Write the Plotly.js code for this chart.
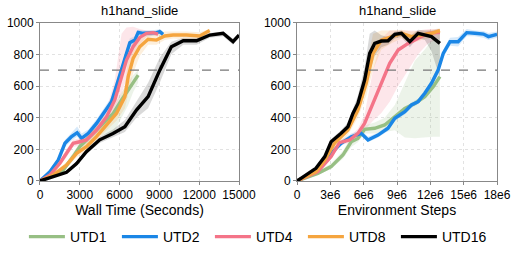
<!DOCTYPE html>
<html><head><meta charset="utf-8">
<script src="https://cdn.plot.ly/plotly-3.0.1.min.js"></script>
<style>html,body{margin:0;padding:0;background:#fff}#chart{width:518px;height:259px}</style>
</head><body><div id="chart"></div>
<script>
// ---------- Left panel: Wall Time (seconds) ----------
const wall_utd1_x = [0,1000,1750,2500,3000,3500,4500,5520,6150,6650,7020,7400];
const wall_utd1_y = [0,38,69,154,217,259,343,427,512,575,627,669];
const wall_utd1_hi = [0,50,85,180,240,290,380,470,560,620,670,700];
const wall_utd1_lo = [0,28,55,130,190,230,290,300,400,480,560,620];

const wall_utd2_x = [0,750,1380,1880,2380,2800,3135,3640,4260,4765,5390,5900,6400,6770,7150,7400,7780,8280,8780,9030,9280];
const wall_utd2_y = [0,59,133,238,280,305,270,301,364,427,501,638,775,874,890,939,933,933,937,943,926];
const wall_utd2_hi = [0,75,150,260,305,345,300,325,390,455,530,670,800,900,915,955,950,950,955,958,945];
const wall_utd2_lo = [0,45,115,215,255,280,250,280,340,400,470,600,740,845,865,920,915,915,920,925,905];

const wall_utd4_x = [0,750,1500,2000,2500,3000,3500,4260,5020,5640,6150,6520,7020,7520,8030,8530,8900];
const wall_utd4_y = [0,38,112,175,238,248,259,322,406,512,659,764,848,907,933,937,928];
const wall_utd4_hi = [0,50,130,200,260,270,285,350,450,640,930,970,975,960,950,950,940];
const wall_utd4_lo = [0,28,95,150,215,225,235,295,370,440,560,640,760,860,910,920,915];

const wall_utd8_x = [0,1000,2000,2760,3500,4260,5020,5770,6400,6650,7020,7520,8150,8780,9400,10030,11040,12040,12790];
const wall_utd8_y = [0,38,101,175,217,280,354,427,533,659,775,848,895,890,916,922,922,916,950];
const wall_utd8_hi = [0,50,120,200,245,310,385,470,600,780,870,900,930,930,945,945,945,940,960];
const wall_utd8_lo = [0,25,85,150,190,250,320,380,460,560,680,790,860,860,890,900,895,885,935];

const wall_utd16_x = [0,1000,2000,2760,3500,4500,5500,6400,7270,8150,9030,9900,10800,11800,12800,13800,14550,15000];
const wall_utd16_y = [0,27,55,110,185,260,300,343,448,533,700,848,886,886,922,933,880,922];
const wall_utd16_hi = [0,35,65,125,200,280,325,385,500,620,780,880,905,905,935,945,900,935];
const wall_utd16_lo = [0,20,45,95,170,240,275,310,400,460,620,800,860,860,905,915,860,905];

// ---------- Right panel: Environment Steps ----------
const env_utd1_x = [0,1.87e6,3.07e6,4.13e6,4.88e6,5.48e6,6.08e6,6.99e6,7.89e6,8.8e6,9.7e6,10.6e6,11.5e6,12.26e6,12.86e6];
const env_utd1_y = [0,48,91,164,248,269,326,333,354,406,459,490,533,596,659];
const env_utd1_hi = [0,60,110,190,280,300,350,370,400,480,620,760,830,900,930];
const env_utd1_lo = [0,38,75,140,215,245,300,300,310,320,275,270,275,280,280];

const env_utd2_x = [0,1.87e6,3.07e6,3.97e6,4.88e6,5.78e6,6.39e6,7.29e6,8.19e6,8.8e6,9.7e6,10.3e6,10.9e6,11.5e6,12.1e6,12.7e6,13.16e6,13.77e6,14.5e6,15.27e6,16e6,16.78e6,17.23e6,18e6];
const env_utd2_y = [0,69,175,238,280,301,259,290,333,396,438,480,501,554,617,701,806,880,880,937,933,928,912,926];
const env_utd2_hi = [0,82,190,255,300,320,280,305,350,412,455,497,520,575,640,725,830,905,910,960,950,948,935,945];
const env_utd2_lo = [0,56,160,222,262,285,245,275,316,380,420,462,485,535,595,680,780,855,850,915,915,905,890,905];

const env_utd4_x = [0,1.87e6,3.07e6,3.82e6,4.73e6,5.48e6,6.08e6,6.84e6,7.59e6,8.34e6,9.1e6,10e6,10.9e6,11.8e6,12.86e6];
const env_utd4_y = [0,59,154,242,259,301,364,490,617,743,827,869,901,933,939];
const env_utd4_hi = [0,70,170,260,280,330,420,700,900,950,950,950,950,960,960];
const env_utd4_lo = [0,48,140,225,240,275,320,380,430,500,600,700,800,870,900];

const env_utd8_x = [0,1.7e6,2.5e6,3.37e6,4.58e6,5.48e6,6.23e6,6.84e6,7.59e6,8.5e6,9.4e6,10.3e6,11.2e6,12.1e6,12.86e6];
const env_utd8_y = [0,59,133,238,322,448,617,806,890,912,933,912,922,933,950];
const env_utd8_hi = [0,72,150,258,350,500,720,930,950,950,955,945,950,955,965];
const env_utd8_lo = [0,45,115,215,290,400,540,700,830,870,900,870,890,905,925];

const env_utd16_x = [0,0.96e6,1.7e6,2.5e6,3.07e6,3.97e6,4.58e6,5.03e6,5.48e6,6.08e6,6.54e6,6.99e6,7.59e6,8.19e6,8.8e6,9.4e6,10.15e6,10.9e6,11.5e6,12.1e6,12.86e6];
const env_utd16_y = [0,48,80,154,248,301,343,427,490,638,806,869,884,886,926,933,880,933,922,912,869];
const env_utd16_hi = [0,58,92,170,265,320,370,460,540,720,930,950,920,910,945,950,915,955,950,950,960];
const env_utd16_lo = [0,38,68,138,230,282,318,395,440,560,690,790,845,860,900,910,845,905,890,820,650];

const seriesNames = ['UTD1','UTD2','UTD4','UTD8','UTD16'];
const lineColors = ['#97bf84','#1a86e6','#f47488','#f5a53f','#000000'];
const bandColors = ['rgba(151,191,132,0.18)','rgba(26,134,230,0.18)','rgba(244,116,136,0.18)','rgba(245,165,63,0.18)','rgba(0,0,0,0.15)'];

const leftSeries = [
  [wall_utd1_x, wall_utd1_y, wall_utd1_lo, wall_utd1_hi],
  [wall_utd2_x, wall_utd2_y, wall_utd2_lo, wall_utd2_hi],
  [wall_utd4_x, wall_utd4_y, wall_utd4_lo, wall_utd4_hi],
  [wall_utd8_x, wall_utd8_y, wall_utd8_lo, wall_utd8_hi],
  [wall_utd16_x, wall_utd16_y, wall_utd16_lo, wall_utd16_hi]
];
const rightSeries = [
  [env_utd1_x, env_utd1_y, env_utd1_lo, env_utd1_hi],
  [env_utd2_x, env_utd2_y, env_utd2_lo, env_utd2_hi],
  [env_utd4_x, env_utd4_y, env_utd4_lo, env_utd4_hi],
  [env_utd8_x, env_utd8_y, env_utd8_lo, env_utd8_hi],
  [env_utd16_x, env_utd16_y, env_utd16_lo, env_utd16_hi]
];

const traces = [];
function addBands(series, xa, ya) {
  series.forEach((s, i) => {
    const [x, , lo, hi] = s;
    traces.push({
      type: 'scatter', mode: 'lines', xaxis: xa, yaxis: ya,
      x: x.concat(x.slice().reverse()),
      y: hi.concat(lo.slice().reverse()),
      fill: 'toself', fillcolor: bandColors[i], line: {width: 0},
      showlegend: false, hoverinfo: 'skip'
    });
  });
}
function addLines(series, xa, ya, legend) {
  series.forEach((s, i) => {
    traces.push({
      type: 'scatter', mode: 'lines', xaxis: xa, yaxis: ya,
      x: s[0], y: s[1], name: seriesNames[i],
      line: {color: lineColors[i], width: 3.4},
      showlegend: legend
    });
  });
}
addBands(leftSeries, 'x', 'y');
addBands(rightSeries, 'x2', 'y2');
addLines(leftSeries, 'x', 'y', true);
addLines(rightSeries, 'x2', 'y2', false);

const axisCommon = {
  showline: true, mirror: true, linecolor: '#888', linewidth: 1,
  ticks: 'outside', ticklen: 3, tickcolor: '#888',
  showgrid: true, gridcolor: '#e2e2e2', griddash: 'dot', gridwidth: 1,
  zeroline: false, tickfont: {size: 12, color: '#000'}
};
const yTickVals = [0,200,400,600,800,1000];
const x2TickVals = [0,3e6,6e6,9e6,12e6,15e6,18e6];
const x2TickText = ['0','3e6','6e6','9e6','12e6','15e6','18e6'];
const xTickVals = [0,3000,6000,9000,12000,15000];

const layout = {
  width: 518, height: 259,
  margin: {l: 0, r: 0, t: 0, b: 0},
  paper_bgcolor: '#fff', plot_bgcolor: '#fff',
  font: {family: '"Liberation Sans", Arial, sans-serif', color: '#000'},
  showlegend: true,
  legend: {orientation: 'h', x: 0.495, xanchor: 'center', y: 0.085, yanchor: 'middle',
           font: {size: 14}, entrywidth: 42, entrywidthmode: 'pixels', itemwidth: 36},
  xaxis: Object.assign({}, axisCommon, {domain: [0.0772, 0.4614], range: [0, 15000],
          tickvals: xTickVals, ticktext: xTickVals.map(String),
          title: {text: 'Wall Time (Seconds)', font: {size: 14}, standoff: 3}}),
  yaxis: Object.assign({}, axisCommon, {domain: [0.3012, 0.9124], range: [0, 1000], tickvals: yTickVals}),
  xaxis2: Object.assign({}, axisCommon, {domain: [0.5734, 0.9595], range: [0, 18e6], anchor: 'y2',
          tickvals: x2TickVals, ticktext: x2TickText,
          title: {text: 'Environment Steps', font: {size: 14}, standoff: 3}}),
  yaxis2: Object.assign({}, axisCommon, {domain: [0.3012, 0.9124], range: [0, 1000], anchor: 'x2', tickvals: yTickVals}),
  shapes: [
    {type: 'line', xref: 'x domain', yref: 'y', x0: 0, x1: 1, y0: 700, y1: 700, line: {color: '#777', width: 1.2, dash: 'dash'}},
    {type: 'line', xref: 'x2 domain', yref: 'y2', x0: 0, x1: 1, y0: 700, y1: 700, line: {color: '#777', width: 1.2, dash: 'dash'}}
  ],
  annotations: [
    {text: 'h1hand_slide', xref: 'paper', yref: 'paper', x: (0.0772+0.4614)/2, y: 0.961, showarrow: false, font: {size: 13}, xanchor: 'center', yanchor: 'middle'},
    {text: 'h1hand_slide', xref: 'paper', yref: 'paper', x: (0.5734+0.9595)/2, y: 0.961, showarrow: false, font: {size: 13}, xanchor: 'center', yanchor: 'middle'}
  ]
};
Plotly.newPlot('chart', traces, layout, {staticPlot: true, displayModeBar: false});
</script></body></html>
